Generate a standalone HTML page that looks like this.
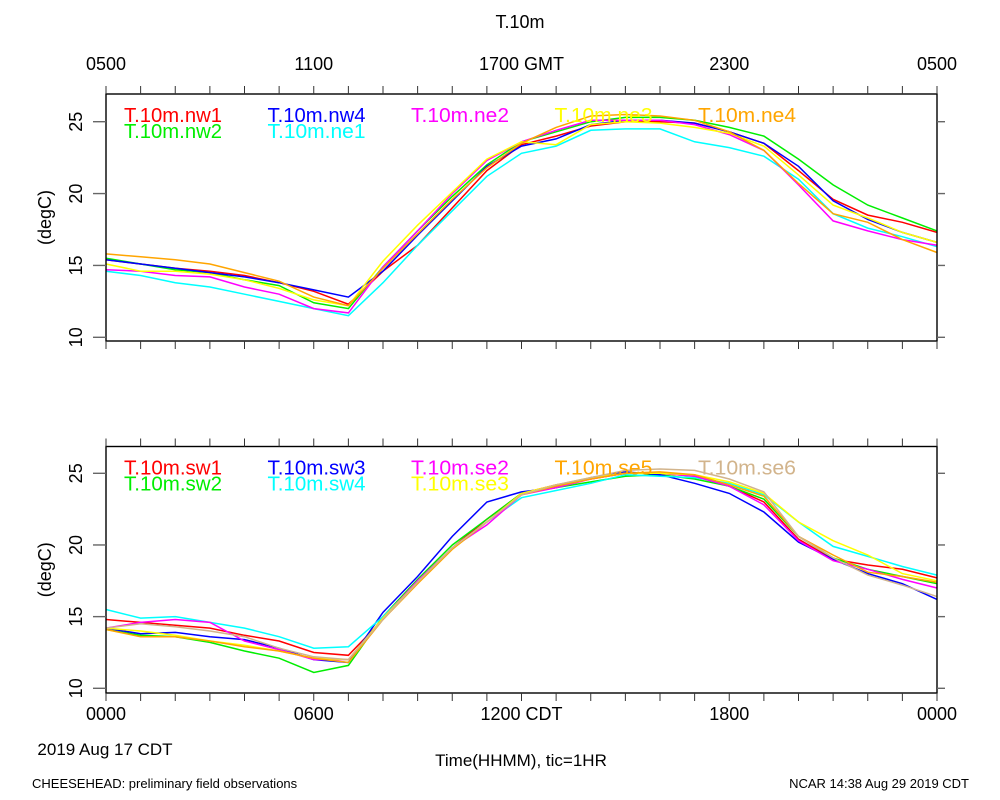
<!DOCTYPE html>
<html><head><meta charset="utf-8"><style>
body{margin:0;background:#fff}
svg{display:block;font-family:"Liberation Sans",sans-serif}
</style></head><body>
<svg id="c" width="1000" height="800" xmlns="http://www.w3.org/2000/svg">
<text x="520" y="28" font-size="18" text-anchor="middle">T.10m</text>
<text x="32" y="788" font-size="13">CHEESEHEAD: preliminary field observations</text>
<text x="969" y="788" font-size="13" text-anchor="end">NCAR 14:38 Aug 29 2019 CDT</text>
<text x="105" y="755" font-size="17" text-anchor="middle">2019 Aug 17 CDT</text>
<text x="521" y="766" font-size="17" text-anchor="middle">Time(HHMM), tic=1HR</text>
</svg>
<script>
const hours=[0,1,2,3,4,5,6,7,8,9,10,11,12,13,14,15,16,17,18,19,20,21,22,23,24];
const topTickLabels=["0500","1100","1700 GMT","2300","0500"];
const botTickLabels=["0000","0600","1200 CDT","1800","0000"];
const yTicks=[10,15,20,25];
const topNames=["T.10m.nw1","T.10m.nw2","T.10m.nw4","T.10m.ne1","T.10m.ne2","T.10m.ne3","T.10m.ne4"];
const topColors=["#ff0000","#00ee00","#0000ff","#00ffff","#ff00ff","#ffff00","#ffa500"];
const topLegCol=[0,0,1,1,2,3,4];
const topLegRow=[0,1,0,1,0,0,0];
const nw1=[15.4,15.1,14.8,14.6,14.3,13.8,13.2,12.3,14.6,16.4,19.0,21.6,23.4,24.0,24.7,25.0,25.0,24.9,24.3,23.5,21.6,19.6,18.5,18.0,17.3];
const nw2=[15.5,15.1,14.7,14.5,14.0,13.6,12.4,12.0,14.9,17.4,19.8,22.0,23.6,24.3,25.0,25.3,25.3,25.1,24.6,24.0,22.4,20.6,19.2,18.3,17.4];
const nw4=[15.4,15.1,14.8,14.5,14.2,13.8,13.3,12.8,14.6,17.1,19.5,21.9,23.3,23.8,24.8,25.1,25.1,24.9,24.3,23.5,21.9,19.5,18.2,17.3,16.6];
const ne1=[14.6,14.3,13.8,13.5,13.0,12.5,12.0,11.5,13.8,16.4,18.8,21.2,22.8,23.3,24.4,24.5,24.5,23.6,23.2,22.6,21.0,18.6,17.6,17.0,16.3];
const ne2=[14.7,14.6,14.3,14.2,13.5,13.0,12.0,11.7,14.9,17.4,20.0,22.3,23.6,24.4,25.1,25.1,25.1,24.8,24.1,23.0,20.6,18.1,17.4,16.8,16.4];
const ne3=[15.1,14.6,14.6,14.4,14.0,13.4,12.6,12.2,15.3,17.8,20.1,22.4,23.6,23.4,24.8,25.0,24.9,24.6,24.2,23.3,21.3,19.2,18.3,17.3,16.6];
const ne4=[15.8,15.6,15.4,15.1,14.5,13.9,12.8,12.2,14.8,17.2,19.6,21.8,23.5,24.6,25.4,25.5,25.4,25.1,24.3,23.0,20.7,18.6,18.0,16.8,15.9];
const botNames=["T.10m.sw1","T.10m.sw2","T.10m.sw3","T.10m.sw4","T.10m.se2","T.10m.se3","T.10m.se5","T.10m.se6"];
const botColors=["#ff0000","#00ee00","#0000ff","#00ffff","#ff00ff","#ffff00","#ffa500","#d2b48c"];
const botLegCol=[0,0,1,1,2,2,3,4];
const botLegRow=[0,1,0,1,0,1,0,0];
const sw1=[14.8,14.6,14.4,14.2,13.7,13.3,12.5,12.3,14.8,17.4,19.8,21.8,23.6,24.2,24.6,25.0,25.0,24.8,24.1,23.0,20.4,19.0,18.6,18.3,17.7];
const sw2=[14.1,13.7,13.6,13.2,12.6,12.1,11.1,11.6,15.0,17.6,20.0,21.8,23.6,24.0,24.4,24.8,24.9,24.6,24.1,23.2,20.6,19.1,18.3,17.8,17.3];
const sw3=[14.2,13.8,13.9,13.6,13.4,12.8,12.0,11.8,15.3,17.8,20.6,23.0,23.7,24.0,24.7,25.1,24.9,24.3,23.6,22.3,20.2,19.0,18.0,17.3,16.2];
const sw4=[15.5,14.9,15.0,14.6,14.2,13.6,12.8,12.9,15.0,17.4,19.8,21.6,23.3,23.8,24.3,24.9,24.8,24.7,24.3,23.5,21.6,19.9,19.2,18.5,17.9];
const se2=[14.2,14.6,14.8,14.6,13.3,12.7,12.0,12.0,14.9,17.5,19.8,21.4,23.5,24.0,24.6,25.0,25.0,24.8,24.1,22.8,20.3,18.9,18.3,17.6,17.0];
const se3=[14.2,14.0,13.7,13.3,13.0,12.6,12.1,12.0,14.9,17.4,19.8,21.6,23.6,24.2,24.7,25.0,25.0,24.9,24.4,23.6,21.6,20.3,19.3,18.0,17.5];
const se5=[14.1,13.6,13.6,13.3,12.9,12.6,12.1,11.8,14.8,17.3,19.7,21.6,23.5,24.1,24.6,25.0,25.1,24.9,24.2,23.4,20.6,19.3,18.1,17.8,17.4];
const se6=[14.2,14.5,14.3,14.0,13.6,12.8,12.2,12.0,14.8,17.4,19.8,21.6,23.5,24.2,24.7,25.2,25.3,25.2,24.6,23.7,20.6,19.1,17.9,17.2,16.4];

const NS="http://www.w3.org/2000/svg";
const svg=document.getElementById('c');
function mk(tag,attrs,parent){const e=document.createElementNS(NS,tag);for(const k in attrs)e.setAttribute(k,attrs[k]);(parent||svg).appendChild(e);return e;}
const X0=106,X1=937;
function xs(h){return X0+(X1-X0)*h/24;}

function panel(name,top,bot,y25,y10,series,names,colors,legCol,legRow,tickLabels,labelsAbove){
  const g=mk('g',{});
  
  
  const ys=v=>y10+(y25-y10)*(v-10)/15;
  series.forEach((s,i)=>{
    const d=s.map((v,j)=>(j?'L':'M')+xs(hours[j]).toFixed(1)+','+ys(v).toFixed(1)).join('');
    const p=mk('path',{d:d,fill:'none',stroke:colors[i],'stroke-width':1.5},g);
    
    
  });
  const r=mk('rect',{x:X0,y:top,width:X1-X0,height:bot-top,fill:'none',stroke:'#000','stroke-width':1.4},g);
  
  
  for(let h=0;h<=24;h++){
    const x=xs(h);
    mk('line',{x1:x,x2:x,y1:top-8,y2:top,stroke:'#333'},g);
    mk('line',{x1:x,x2:x,y1:bot,y2:bot+8,stroke:'#333'},g);
  }
  yTicks.forEach(v=>{
    const y=ys(v);
    mk('line',{x1:X0-13,x2:X0,y1:y,y2:y,stroke:'#666','stroke-width':1.4},g);
    mk('line',{x1:X1,x2:X1+8,y1:y,y2:y,stroke:'#666','stroke-width':1.4},g);
    const t=mk('text',{x:0,y:0,'font-size':18,'text-anchor':'middle',transform:`translate(82,${y}) rotate(-90)`},g);
    t.textContent=v;
    
    
  });
  const yt=mk('text',{x:0,y:0,'font-size':18,'text-anchor':'middle',transform:`translate(51,${(top+bot)/2}) rotate(-90)`},g);
  yt.textContent='(degC)';
  
  
  tickLabels.forEach((l,i)=>{
    const t=mk('text',{x:xs(i*6),y:labelsAbove?top-24:bot+27,'font-size':18,'text-anchor':'middle'},g);
    t.textContent=l;
    
    
  });
  names.forEach((n,i)=>{
    const t=mk('text',{x:124+legCol[i]*143.5,y:top+28+legRow[i]*16,'font-size':20,fill:colors[i],textLength:98,lengthAdjust:'spacingAndGlyphs'},g);
    t.textContent=n;
    
    
  });
}
panel('top-panel',94,341,121.7,337.3,[nw1,nw2,nw4,ne1,ne2,ne3,ne4],topNames,topColors,topLegCol,topLegRow,topTickLabels,true);
panel('bottom-panel',446.5,693,473.3,688.3,[sw1,sw2,sw3,sw4,se2,se3,se5,se6],botNames,botColors,botLegCol,botLegRow,botTickLabels,false);
</script>
</body></html>
